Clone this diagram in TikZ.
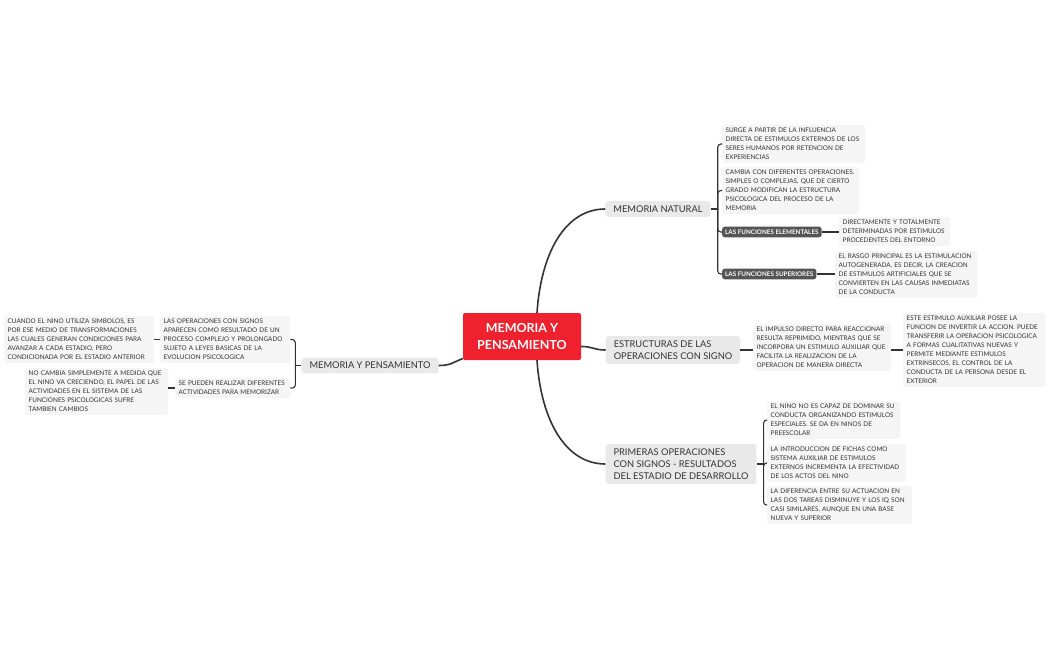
\documentclass[tikz,border=0pt]{standalone}
\usepackage{fontspec}
\setmainfont{Lato}
\usetikzlibrary{calc}
\definecolor{rootred}{HTML}{F0212E}
\definecolor{topicgray}{HTML}{E9E9E9}
\definecolor{leafgray}{HTML}{F5F5F5}
\definecolor{darklab}{HTML}{555555}
\definecolor{conncol}{HTML}{333333}
\definecolor{txtcol}{HTML}{333333}
\tikzset{
  rootbox/.style={fill=rootred, rounded corners=2pt, text=white, align=center,
    font=\bfseries\fontsize{12.5}{17}\selectfont, minimum width=118pt, minimum height=47pt, inner sep=2pt},
  topicbox/.style={fill=topicgray, rounded corners=3pt, text=txtcol, align=left,
    font=\fontsize{9.3}{12}\selectfont, inner xsep=8pt, inner ysep=4.5pt},
  leafbox/.style={fill=leafgray, rounded corners=2.5pt, text=txtcol, align=left,
    font=\fontsize{6.4}{9}\selectfont, inner xsep=3.5pt, inner ysep=3pt, anchor=north west},
  darkbox/.style={fill=darklab, rounded corners=2.5pt, text=white,
    font=\bfseries\fontsize{6.3}{7}\selectfont, inner xsep=3pt, inner ysep=3pt},
  mainline/.style={draw=conncol, line width=1.6pt},
  subline/.style={draw=conncol, line width=1.1pt, rounded corners=3pt},
}
\begin{document}
\begin{tikzpicture}[x=1pt,y=-1pt]
\useasboundingbox[fill=white] (0,0) rectangle (1050,650);

% root and topics
\node[rootbox] (root) at (522,336.5) {MEMORIA Y\\PENSAMIENTO};
\node[topicbox] (mn) at (658,209) {MEMORIA NATURAL};
\node[topicbox] (es) at (673,350) {ESTRUCTURAS DE LAS\\OPERACIONES CON SIGNO};
\node[topicbox] (po) at (681,464) {PRIMERAS OPERACIONES\\CON SIGNOS - RESULTADOS\\DEL ESTADIO DE DESARROLLO};
\node[topicbox] (mp) at (370,365.5) {MEMORIA Y PENSAMIENTO};

% MEMORIA NATURAL children
\node[leafbox, text width=136pt] (a1) at (722,125) {SURGE A PARTIR DE LA INFLUENCIA\\DIRECTA DE ESTIMULOS EXTERNOS DE LOS\\SERES HUMANOS POR RETENCION DE\\EXPERIENCIAS};
\node[leafbox, text width=130pt] (a2) at (722,167) {CAMBIA CON DIFERENTES OPERACIONES.\\SIMPLES O COMPLEJAS, QUE DE CIERTO\\GRADO MODIFICAN LA ESTRUCTURA\\PSICOLOGICA DEL PROCESO DE LA\\MEMORIA};
\node[darkbox, anchor=west] (a3) at (722,232) {LAS FUNCIONES ELEMENTALES};
\node[leafbox, text width=104pt] (a3l) at (839,217) {DIRECTAMENTE Y TOTALMENTE\\DETERMINADAS POR ESTIMULOS\\PROCEDENTES DEL ENTORNO};
\node[darkbox, anchor=west] (a4) at (722,274) {LAS FUNCIONES SUPERIORES};
\node[leafbox, text width=135pt] (a4l) at (835,251) {EL RASGO PRINCIPAL ES LA ESTIMULACION\\AUTOGENERADA, ES DECIR, LA CREACION\\DE ESTIMULOS ARTIFICIALES QUE SE\\CONVIERTEN EN LAS CAUSAS INMEDIATAS\\DE LA CONDUCTA};

% ESTRUCTURAS children
\node[leafbox, text width=131pt] (b1) at (753,324) {EL IMPULSO DIRECTO PARA REACCIONAR\\RESULTA REPRIMIDO, MIENTRAS QUE SE\\INCORPORA UN ESTIMULO AUXILIAR QUE\\FACILITA LA REALIZACION DE LA\\OPERACION DE MANERA DIRECTA};
\node[leafbox, text width=135pt] (b2) at (903,313) {ESTE ESTIMULO AUXILIAR POSEE LA\\FUNCION DE INVERTIR LA ACCION. PUEDE\\TRANSFERIR LA OPERACION PSICOLOGICA\\A FORMAS CUALITATIVAS NUEVAS Y\\PERMITE MEDIANTE ESTIMULOS\\EXTRINSECOS, EL CONTROL DE LA\\CONDUCTA DE LA PERSONA DESDE EL\\EXTERIOR};

% PRIMERAS children
\node[leafbox, text width=126pt] (c1) at (767,401) {EL NINO NO ES CAPAZ DE DOMINAR SU\\CONDUCTA ORGANIZANDO ESTIMULOS\\ESPECIALES. SE DA EN NINOS DE\\PREESCOLAR};
\node[leafbox, text width=132pt] (c2) at (767,444) {LA INTRODUCCION DE FICHAS COMO\\SISTEMA AUXILIAR DE ESTIMULOS\\EXTERNOS INCREMENTA LA EFECTIVIDAD\\DE LOS ACTOS DEL NINO};
\node[leafbox, text width=138pt] (c3) at (767,486) {LA DIFERENCIA ENTRE SU ACTUACION EN\\LAS DOS TAREAS DISMINUYE Y LOS IQ SON\\CASI SIMILARES, AUNQUE EN UNA BASE\\NUEVA Y SUPERIOR};

% left side
\node[leafbox, text width=123pt] (d1) at (160,316) {LAS OPERACIONES CON SIGNOS\\APARECEN COMO RESULTADO DE UN\\PROCESO COMPLEJO Y PROLONGADO\\SUJETO A LEYES BASICAS DE LA\\EVOLUCION PSICOLOGICA};
\node[leafbox, text width=108pt] (d2) at (175,378) {SE PUEDEN REALIZAR DIFERENTES\\ACTIVIDADES PARA MEMORIZAR};
\node[leafbox, text width=143pt] (e1) at (4,316) {CUANDO EL NINO UTILIZA SIMBOLOS, ES\\POR ESE MEDIO DE TRANSFORMACIONES\\LAS CUALES GENERAN CONDICIONES PARA\\AVANZAR A CADA ESTADIO, PERO\\CONDICIONADA POR EL ESTADIO ANTERIOR};
\node[leafbox, text width=136pt] (e2) at (25,368) {NO CAMBIA SIMPLEMENTE A MEDIDA QUE\\EL NINO VA CRECIENDO, EL PAPEL DE LAS\\ACTIVIDADES EN EL SISTEMA DE LAS\\FUNCIONES PSICOLOGICAS SUFRE\\TAMBIEN CAMBIOS};

% main curves
\draw[mainline] ($(root.north)+(15,0)$) .. controls +(4,-60) and +(-40,0) .. (mn.west);
\draw[mainline] ($(root.east)+(0,10)$) .. controls +(12,0) and +(-12,0) .. (es.west);
\draw[mainline] ($(root.south)+(15,0)$) .. controls +(4,60) and +(-40,0) .. (po.west);
\draw[mainline] ($(root.west)+(0,22)$) .. controls +(-10,4) and +(12,0) .. (mp.east);

% MEMORIA NATURAL bracket
\coordinate (mnb) at ($(mn.east)+(7,0)$);
\draw[subline] (mn.east) -- (mnb);
\draw[subline] (mnb) |- (a1.west);
\draw[subline] (mnb) |- (a2.west);
\draw[subline] (mnb) |- (a3.west);
\draw[subline] (mnb) |- (a4.west);
\draw[subline] (a3.east) -- (a3l.west |- a3.east);
\draw[subline] (a4.east) -- (a4l.west |- a4.east);

% ESTRUCTURAS chain
\draw[subline] (es.east) -- (b1.west |- es.east);
\draw[subline] (b1.east |- es.east) -- (b2.west |- es.east);

% PRIMERAS bracket
\coordinate (pob) at ($(po.east)+(7,0)$);
\draw[subline] (po.east) -- (pob);
\draw[subline] (pob) |- (c1.west);
\draw[subline] (pob) |- (c2.west);
\draw[subline] (pob) |- (c3.west);

% left bracket
\coordinate (mpb) at ($(mp.west)+(-6,0)$);
\draw[subline] (mp.west) -- (mpb);
\draw[subline] (mpb) |- (d1.east);
\draw[subline] (mpb) |- (d2.east);
\draw[subline] (d1.west) -- (e1.east |- d1.west);
\draw[subline] (d2.west) -- (e2.east |- d2.west);
\end{tikzpicture}
\end{document}
